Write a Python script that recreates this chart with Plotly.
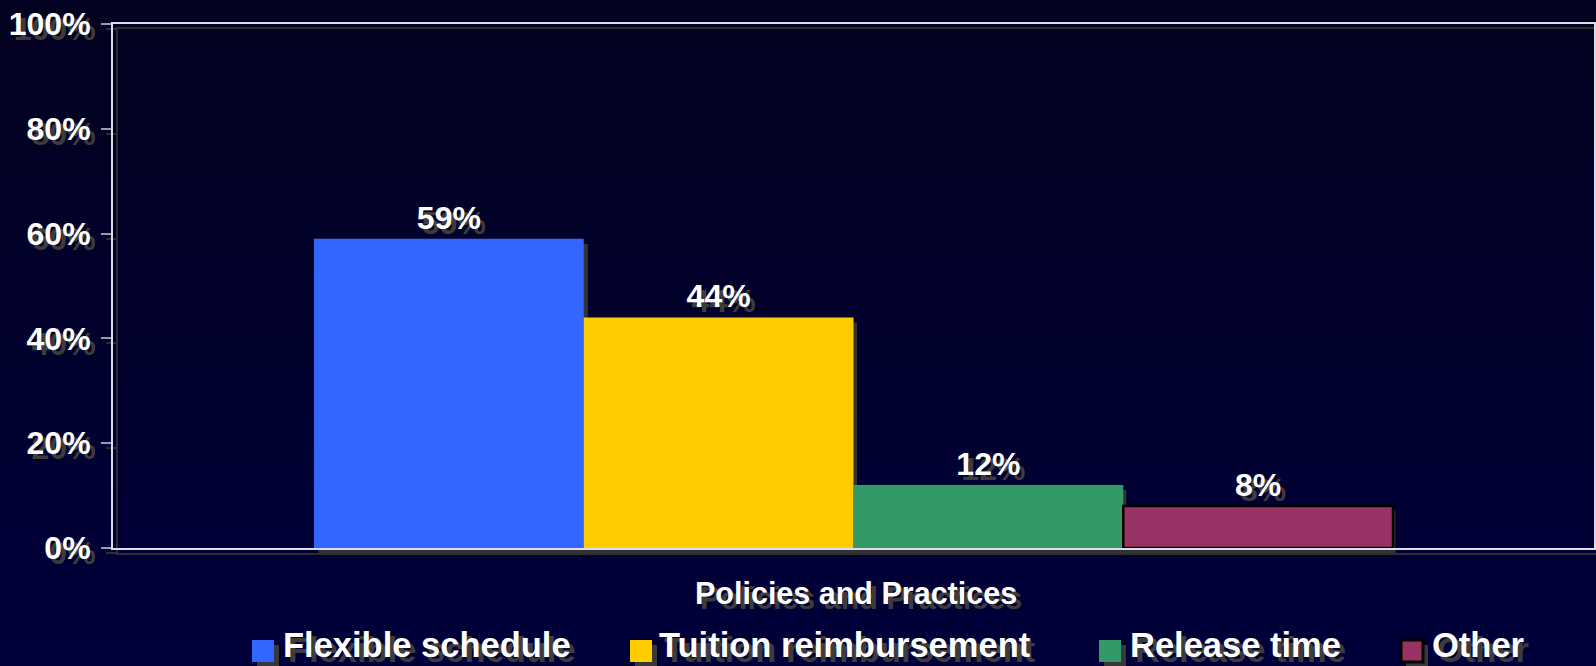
import plotly.graph_objects as go

categories = ["Flexible schedule", "Tuition reimbursement", "Release time", "Other"]
values = [0.59, 0.44, 0.12, 0.08]
colors = ["#3366ff", "#ffcc00", "#339966", "#993366"]
borders = ["#3366ff", "#ffcc00", "#339966", "#000000"]
group_label = "Policies and Practices"
y_ticks = [0, 0.2, 0.4, 0.6, 0.8, 1.0]

W, H = 1596, 666
L, T, B = 113, 24, 113
PW = W - L          # paper area width 1483
PH = H - T - B      # paper area height 529
SH = 5              # shadow offset

FONT = "Liberation Sans, Arial, sans-serif"
TSHADOW = "5px 5px 0px #3c3c3c"

def px(x):
    return (x - L) / PW

def py(y):
    return (H - B - y) / PH

fig = go.Figure()

# shadow bars (lower subplot, offset right/down)
for cat, v in zip(categories, values):
    fig.add_trace(go.Bar(
        x=[group_label], y=[v], name=cat, showlegend=False,
        marker=dict(color="#333333", line=dict(width=0)),
        xaxis="x", yaxis="y", hoverinfo="skip",
    ))

# main bars
for cat, v, c, bc in zip(categories, values, colors, borders):
    fig.add_trace(go.Bar(
        x=[group_label], y=[v], name=cat, showlegend=False,
        marker=dict(color=c, line=dict(color=bc, width=2.5 if bc == "#000000" else 0)),
        texttemplate="%{y:.0%}", textposition="outside", cliponaxis=False,
        textfont=dict(family=FONT, size=32, color="white", weight="bold", shadow=TSHADOW),
        xaxis="x2", yaxis="y2",
    ))

# legend entries (text), one legend each; keys drawn as squares below
legend_text_x = [283, 659, 1130, 1432]
legend_key_x = [252, 630, 1099, 1401]
for i, cat in enumerate(categories):
    fig.add_trace(go.Scatter(
        x=[None], y=[None], mode="markers", name=cat,
        marker=dict(symbol="square", size=1, color="rgba(0,0,0,0)"),
        xaxis="x2", yaxis="y2", legend="legend" if i == 0 else f"legend{i+1}",
    ))

# background gradient bands
top = (3, 2, 32)
bot = (0, 0, 58)
N = 30
y_top, y_bot = py(0), py(H)
shapes = []
for k in range(N):
    f = k / (N - 1)
    col = tuple(round(top[j] + (bot[j] - top[j]) * f) for j in range(3))
    y0 = y_top + (y_bot - y_top) * k / N
    y1 = y_top + (y_bot - y_top) * (k + 1) / N
    shapes.append(dict(type="rect", xref="paper", yref="paper", x0=-0.1, x1=1.1,
                       y0=y1, y1=y0 + 0.001, layer="below", line=dict(width=0),
                       fillcolor=f"rgb{col}"))

# legend key squares with shadow
KS = 22
ky0 = 640
for kx, c, bc in zip(legend_key_x, colors, borders):
    shapes.append(dict(type="rect", xref="paper", yref="paper",
                       x0=px(kx + SH), x1=px(kx + SH + KS), y0=py(ky0 + SH + KS), y1=py(ky0 + SH),
                       line=dict(width=0), fillcolor="#383838", layer="above"))
    shapes.append(dict(type="rect", xref="paper", yref="paper",
                       x0=px(kx), x1=px(kx + KS), y0=py(ky0 + KS), y1=py(ky0),
                       line=dict(width=3 if bc == "#000000" else 0, color=bc),
                       fillcolor=c, layer="above"))

legend_common = dict(
    orientation="h", xanchor="left", yanchor="middle", y=py(644),
    bgcolor="rgba(0,0,0,0)", borderwidth=0, itemsizing="trace",
    font=dict(family=FONT, size=34.5, color="white", weight="bold", shadow=TSHADOW),
)

layout = dict(
    width=W, height=H,
    margin=dict(l=L, r=0, t=T, b=B, pad=0, autoexpand=False),
    paper_bgcolor="#01012a", plot_bgcolor="rgba(0,0,0,0)",
    barmode="group", bargap=0.2714, bargroupgap=0,
    shapes=shapes,
    xaxis=dict(domain=[SH / PW, 1], anchor="y", showline=True, mirror=True,
               linecolor="#2e2e2e", linewidth=2, showticklabels=False, ticks="",
               showgrid=False, zeroline=False, fixedrange=True),
    yaxis=dict(domain=[0, 1 - SH / PH], anchor="x", range=[0, 1], showline=True, mirror=True,
               linecolor="#2e2e2e", linewidth=2, ticks="outside", ticklen=10, tickwidth=2,
               tickcolor="#2e2e2e", tickvals=y_ticks, showticklabels=False,
               showgrid=False, zeroline=False),
    xaxis2=dict(domain=[0, 1 - 2 / PW], anchor="y2", showline=True, mirror=True,
                linecolor="#dcdcec", linewidth=2, showticklabels=False, ticks="",
                showgrid=False, zeroline=False),
    yaxis2=dict(domain=[SH / PH, 1], anchor="x2", range=[0, 1], showline=True, mirror=True,
                linecolor="#dcdcec", linewidth=2, ticks="outside", ticklen=10, tickwidth=2,
                tickcolor="#9a9aae", tickvals=y_ticks, tickformat=".0%",
                ticklabelstandoff=4,
                tickfont=dict(family=FONT, size=32, color="white", weight="bold", shadow=TSHADOW),
                showgrid=False, zeroline=False),
    annotations=[dict(
        text=group_label, xref="paper", yref="paper", x=px(856), y=py(593),
        xanchor="center", yanchor="middle", showarrow=False,
        font=dict(family=FONT, size=30.5, color="white", weight="bold", shadow=TSHADOW),
    )],
)
for i, tx in enumerate(legend_text_x):
    key = "legend" if i == 0 else f"legend{i+1}"
    layout[key] = dict(legend_common, x=px(tx - 40))

fig.update_layout(**layout)
fig.write_html(
    "out.html",
    config={"displayModeBar": False},
    post_script="document.body.style.margin='0';document.body.style.overflow='hidden';",
)
